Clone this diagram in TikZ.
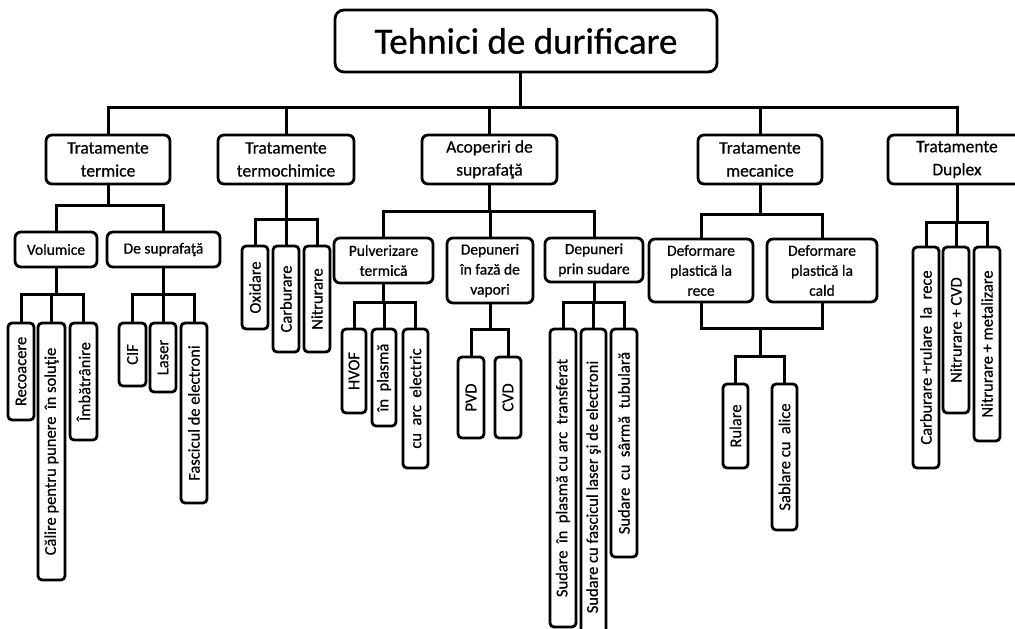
\documentclass[tikz,border=0pt]{standalone}
\usepackage{fontspec}
\usepackage{graphicx}
\setmainfont{Carlito}[FakeBold=0.6]
\tikzset{
  box/.style={draw=black, line width=2.8pt, rounded corners=6pt, fill=white, inner sep=0pt, align=center, text=black},
  lvone/.style={box, font=\fontsize{17.5}{23}\selectfont},
  lvtwo/.style={box, font=\fontsize{15.5}{20}\selectfont},
  vbox/.style={box, rounded corners=4pt, font=\fontsize{16.5}{19}\selectfont},
  titlebox/.style={box, rounded corners=9pt, font=\fontsize{37}{44}\selectfont},
  conn/.style={draw=black, line width=3pt},
}
% #1 name, #2 style, #3 x1, #4 y1, #5 x2, #6 y2, #7 text
\newcommand\mkhbox[7]{\node[#2, minimum width={(#5-#3)*1pt}, minimum height={(#6-#4)*1pt}] (#1) at ({(#3+#5)/2},{(#4+#6)/2}) {#7};}
\newcommand\mkvbox[6]{\node[vbox, minimum width={(#4-#2)*1pt}, minimum height={(#5-#3)*1pt}] (#1) at ({(#2+#4)/2},{(#3+#5)/2}) {\rotatebox{90}{#6}};}
\begin{document}
\begin{tikzpicture}[x=1pt, y=-1pt]
\useasboundingbox (0,0) rectangle (1015,629);
\clip (0,0) rectangle (1015,629);
% bus coordinates
\coordinate (b0) at (0,107);
\coordinate (b1) at (0,205);
\coordinate (b2) at (0,294);
\coordinate (b3) at (0,219);
\coordinate (b4) at (0,211);
\coordinate (b5) at (0,302);
\coordinate (b6) at (0,329);
\coordinate (b7) at (0,214);
\coordinate (b8) at (0,222);
\coordinate (mj) at (760,328);
\coordinate (mb) at (760,356);

% title
\mkhbox{top}{titlebox}{335}{10}{717}{72}{Tehnici de durificare}
\coordinate (topout) at ([xshift=-6pt]top.south);

% level 1
\mkhbox{tt}{lvone}{46}{135}{170}{184}{Tratamente\\termice}
\mkhbox{tc}{lvone}{218}{135}{354}{184}{Tratamente\\termochimice}
\mkhbox{as}{lvone}{422}{135}{557}{184}{Acoperiri de\\suprafaţă}
\mkhbox{tm}{lvone}{698}{135}{822}{184}{Tratamente\\mecanice}
\mkhbox{td}{lvone}{888}{135}{1026}{184}{Tratamente\\Duplex}

% level 2
\mkhbox{vol}{lvtwo}{15}{232}{97}{267}{Volumice}
\mkhbox{dsup}{lvtwo}{107}{232}{220}{267}{De suprafaţă}
\mkhbox{pulv}{lvtwo}{334}{238}{433}{283}{Pulverizare\\termică}
\mkhbox{vap}{lvtwo}{447}{238}{533}{303}{Depuneri\\în fază de\\vapori}
\mkhbox{sud}{lvtwo}{545}{238}{643}{282}{Depuneri\\prin sudare}
\mkhbox{drece}{lvtwo}{649}{239}{753}{302}{Deformare\\plastică la\\rece}
\mkhbox{dcald}{lvtwo}{767}{239}{877}{302}{Deformare\\plastică la\\cald}

% vertical leaves
\mkvbox{rec}{8}{323}{34}{420}{Recoacere}
\mkvbox{cal}{38}{323}{65}{580}{Călire pentru punere\ \ în soluţie}
\mkvbox{imb}{70}{323}{97}{440}{Îmbătrânire}
\mkvbox{cif}{119}{323}{146}{386}{CIF}
\mkvbox{las}{150}{323}{176}{392}{Laser}
\mkvbox{fas}{181}{323}{207}{503}{Fascicul de electroni}
\mkvbox{oxi}{242}{246}{268}{329}{Oxidare}
\mkvbox{car}{273}{246}{299}{352}{Carburare}
\mkvbox{nit}{304}{246}{330}{352}{Nitrurare}
\mkvbox{hvof}{342}{329}{366}{413}{HVOF}
\mkvbox{inpl}{372}{329}{396}{426}{în\ \ plasmă}
\mkvbox{arc}{403}{329}{428}{468}{cu\ \ arc\ \ electric}
\mkvbox{pvd}{458}{357}{484}{438}{PVD}
\mkvbox{cvd}{495}{357}{521}{438}{CVD}
\mkvbox{s1}{550}{329}{576}{627}{Sudare\ \ în\ \ plasmă cu arc\ \ transferat}
\mkvbox{s2}{581}{329}{606}{645}{Sudare cu fascicul laser şi de electroni}
\mkvbox{s3}{611}{329}{637}{557}{Sudare\ \ cu\ \ sârmă\ \ tubulară}
\mkvbox{rul}{723}{384}{748}{468}{Rulare}
\mkvbox{sab}{772}{384}{797}{530}{Sablare cu\ \ alice}
\mkvbox{cr}{913}{247}{939}{468}{Carburare +rulare\ \ la\ \ rece}
\mkvbox{ncvd}{943}{247}{969}{413}{Nitrurare + CVD}
\mkvbox{nmet}{974}{247}{1000}{441}{Nitrurare + metalizare}

% connectors
\foreach \c in {tt,tc,as,tm,td} {\draw[conn] (topout) -- (topout |- b0) -| (\c.north);}
\foreach \c in {vol,dsup} {\draw[conn] (tt.south) -- (tt.south |- b1) -| (\c.north);}
\foreach \c in {rec,cal,imb} {\draw[conn] (vol.south) -- (vol.south |- b2) -| (\c.north);}
\foreach \c in {cif,las,fas} {\draw[conn] (dsup.south) -- (dsup.south |- b2) -| (\c.north);}
\foreach \c in {oxi,car,nit} {\draw[conn] (tc.south) -- (tc.south |- b3) -| (\c.north);}
\foreach \c in {pulv,vap,sud} {\draw[conn] (as.south) -- (as.south |- b4) -| (\c.north);}
\foreach \c in {hvof,inpl,arc} {\draw[conn] (pulv.south) -- (pulv.south |- b5) -| (\c.north);}
\foreach \c in {pvd,cvd} {\draw[conn] (vap.south) -- (vap.south |- b6) -| (\c.north);}
\foreach \c in {s1,s2,s3} {\draw[conn] (sud.south) -- (sud.south |- b5) -| (\c.north);}
\foreach \c in {drece,dcald} {\draw[conn] (tm.south) -- (tm.south |- b7) -| (\c.north);}
\draw[conn] (drece.south) |- (mj);
\draw[conn] (dcald.south) |- (mj);
\draw[conn] (mj) -- (mb);
\foreach \c in {rul,sab} {\draw[conn] (mb) -| (\c.north);}
\foreach \c in {cr,ncvd,nmet} {\draw[conn] (td.south) -- (td.south |- b8) -| (\c.north);}
\end{tikzpicture}
\end{document}
